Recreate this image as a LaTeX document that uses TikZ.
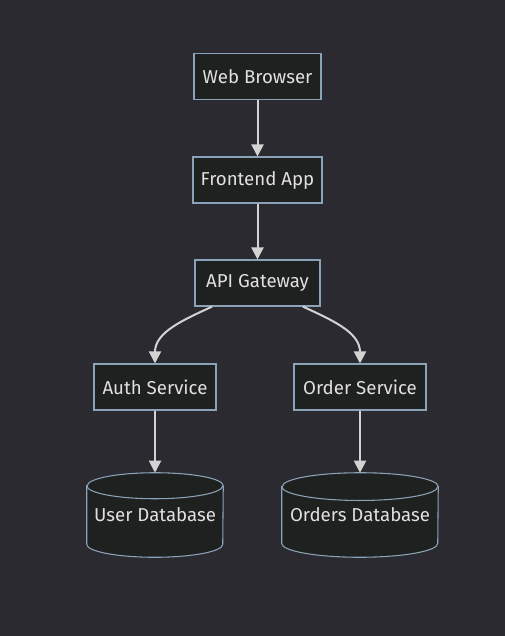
\documentclass[tikz,border=0pt]{standalone}
\usepackage{fontspec}
\setmainfont{Fira Sans}
\usetikzlibrary{arrows.meta}

\definecolor{bgcol}{HTML}{2B2A31}
\definecolor{boxcol}{HTML}{1F2020}
\definecolor{linecol}{HTML}{8BA3B8}
\definecolor{arrcol}{HTML}{D3D3D3}
\definecolor{txtcol}{HTML}{E0E0E0}

\begin{document}
\begin{tikzpicture}[x=0.75pt, y=0.75pt,
    every node/.style={font=\fontsize{14}{16}\selectfont, text=txtcol},
    box/.style={draw=linecol, fill=boxcol, line width=0.8pt, minimum height=34.5pt, inner sep=0pt},
    db/.style={inner sep=0pt, minimum height=63pt},
    dbline/.style={draw=linecol, fill=boxcol, line width=0.8pt},
    link/.style={draw=arrcol, line width=1.5pt, -{Triangle[length=9pt,width=9pt]}}]
    % Фон
    \fill[bgcol] (0,0) rectangle (505,-636);
    \useasboundingbox (0,0) rectangle (505,-636);

    % Узлы
    \node[box, minimum width=95.25pt] (web) at (257.5,-76.5) {Web Browser};
    \node[box, minimum width=96.75pt] (front) at (257.5,-180) {Frontend App};
    \node[box, minimum width=93.75pt] (api) at (257.5,-283) {API Gateway};
    \node[box, minimum width=91.5pt] (auth) at (155,-387) {Auth Service};
    \node[box, minimum width=99pt] (order) at (360,-387) {Order Service};

    % Базы данных: сначала цилиндры, потом подписи
    \node[db, minimum width=102pt] (userdb) at (155,-515) {};
    \node[db, minimum width=117pt] (orderdb) at (360,-515) {};
    \foreach \n/\rx/\ry in {userdb/51pt/9.75pt, orderdb/58.5pt/10.4pt} {
        \filldraw[dbline] ([yshift=-\ry]\n.north west) -- ([yshift=\ry]\n.south west)
            arc[start angle=180, end angle=360, x radius=\rx, y radius=\ry]
            -- ([yshift=-\ry]\n.north east)
            arc[start angle=0, end angle=180, x radius=\rx, y radius=\ry] -- cycle;
        \draw[dbline, fill=none] ([yshift=-\ry]\n.north west)
            arc[start angle=180, end angle=360, x radius=\rx, y radius=\ry];
    }
    \node (usertext) at (userdb) {User Database};
    \node (ordertext) at (orderdb) {Orders Database};

    % Связи
    \draw[link] (web) -- (front);
    \draw[link] (front) -- (api);
    \draw[link] ([xshift=-34pt]api.south) to[out=-155, in=90] (auth.north);
    \draw[link] ([xshift=34pt]api.south) to[out=-25, in=90] (order.north);
    \draw[link] (auth) -- (userdb);
    \draw[link] (order) -- (orderdb);
\end{tikzpicture}
\end{document}
